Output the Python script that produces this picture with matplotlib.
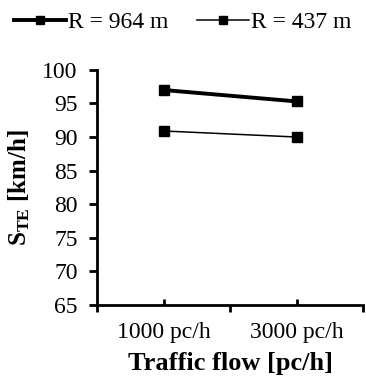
import matplotlib.pyplot as plt
from matplotlib.ticker import FixedLocator, NullFormatter, FixedFormatter

plt.rcParams['font.family'] = ['Liberation Serif', 'DejaVu Serif']
plt.rcParams['mathtext.fontset'] = 'custom'
plt.rcParams['mathtext.rm'] = 'Liberation Serif'
plt.rcParams['mathtext.bf'] = 'Liberation Serif:bold'

categories = ["1000 pc/h", "3000 pc/h"]
r964 = [97.0, 95.3]
r437 = [90.9, 90.0]
yticks = [65, 70, 75, 80, 85, 90, 95, 100]

fig = plt.figure(figsize=(3.66, 3.88), dpi=100)
ax = fig.add_axes([0.265, 0.214, 0.727, 0.606])

xpos = [i + 0.5 for i in range(len(categories))]
ax.plot(xpos, r964, color='black', lw=2.8, marker='s', ms=7, label='R = 964 m')
ax.plot(xpos, r437, color='black', lw=1.1, marker='s', ms=7, label='R = 437 m')

ax.set_xlim(0, len(categories))
ax.set_ylim(65, 100)
ax.set_yticks(yticks)

ax.xaxis.set_major_locator(FixedLocator([0, 1, 2]))
ax.xaxis.set_major_formatter(NullFormatter())
ax.xaxis.set_minor_locator(FixedLocator(xpos))
ax.xaxis.set_minor_formatter(FixedFormatter(categories))
ax.tick_params(axis='x', which='major', direction='out', length=5, width=2)
ax.tick_params(axis='x', which='minor', direction='in', length=4, width=2,
               labelsize=17, pad=12)
ax.tick_params(axis='y', direction='out', length=6, width=2, labelsize=17, pad=8)

for s in ['top', 'right']:
    ax.spines[s].set_visible(False)
for s in ['left', 'bottom']:
    ax.spines[s].set_linewidth(2)

ax.set_xlabel('Traffic flow [pc/h]', fontsize=19, fontweight='bold', labelpad=7)
ax.set_ylabel(r'$\mathbf{S_{TE}}$ [km/h]', fontsize=18, fontweight='bold', labelpad=7)

fig.legend(loc='upper center', bbox_to_anchor=(0.5, 1.025), ncol=2, frameon=False,
           fontsize=17, handlelength=2.2, handletextpad=0.1, columnspacing=1.2,
           markerscale=0.9)

fig.savefig('out.png', dpi=100)
